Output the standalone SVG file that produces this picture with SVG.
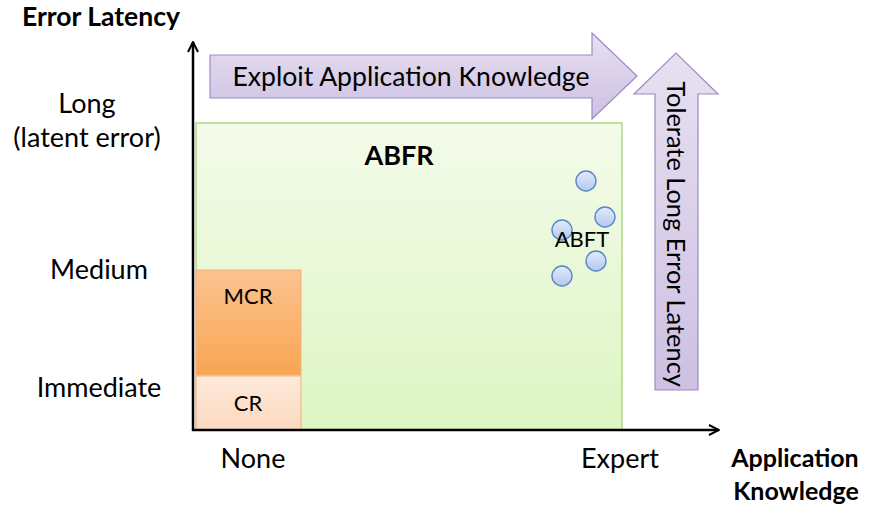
<svg xmlns="http://www.w3.org/2000/svg" width="874" height="512" viewBox="0 0 874 512">
  <style>
    text { font-family: Lato, "Liberation Sans", sans-serif; fill: #000; }
    .lbl { font-size: 27px; }
    .bold { font-weight: bold; }
    .arrow { fill: url(#purple); stroke: #9c8cc3; stroke-width: 1.2; }
    .dot { fill: url(#blue); stroke: #5a87c8; stroke-width: 1.4; }
    .axis { stroke: #000; stroke-width: 2.5; fill: none; }
  </style>
  <defs>
    <linearGradient id="green" x1="0" y1="0" x2="0" y2="1">
      <stop offset="0" stop-color="#f4fbea"/>
      <stop offset="1" stop-color="#ddf5c2"/>
    </linearGradient>
    <linearGradient id="orange" x1="0" y1="0" x2="0" y2="1">
      <stop offset="0" stop-color="#fcc390"/>
      <stop offset="1" stop-color="#f8a552"/>
    </linearGradient>
    <linearGradient id="peach" x1="0" y1="0" x2="0" y2="1">
      <stop offset="0" stop-color="#fdeadc"/>
      <stop offset="1" stop-color="#fcd9bf"/>
    </linearGradient>
    <linearGradient id="purple" x1="0" y1="0" x2="0" y2="1">
      <stop offset="0" stop-color="#e7e0f1"/>
      <stop offset="1" stop-color="#cdc0e2"/>
    </linearGradient>
    <linearGradient id="blue" x1="0" y1="0" x2="0" y2="1">
      <stop offset="0" stop-color="#e2ebfa"/>
      <stop offset="1" stop-color="#b3c8ee"/>
    </linearGradient>
    <marker id="head" viewBox="0 0 10 10" refX="9" refY="5" markerWidth="5" markerHeight="5" orient="auto">
      <path d="M1,1 L9,5 L1,9" fill="none" stroke="#000" stroke-width="1.6"/>
    </marker>
  </defs>

  <!-- regions -->
  <g id="abfr">
    <rect x="196" y="123" width="426" height="307" fill="url(#green)" stroke="#9fcf6a" stroke-width="1.2"/>
    <text class="bold" x="399" y="165" text-anchor="middle" font-size="27">ABFR</text>
  </g>
  <g id="mcr">
    <rect x="196" y="270" width="105" height="105" fill="url(#orange)" stroke="#f3b07c" stroke-width="1"/>
    <text x="248" y="304" text-anchor="middle" font-size="22">MCR</text>
  </g>
  <g id="cr">
    <rect x="196" y="376" width="105" height="54" fill="url(#peach)" stroke="#f3b07c" stroke-width="1"/>
    <text x="248" y="411" text-anchor="middle" font-size="22">CR</text>
  </g>

  <!-- ABFT points -->
  <g id="abft">
    <circle class="dot" cx="586" cy="181" r="10"/>
    <circle class="dot" cx="605" cy="217" r="10"/>
    <circle class="dot" cx="562" cy="230" r="10"/>
    <circle class="dot" cx="596" cy="261" r="10"/>
    <circle class="dot" cx="562" cy="276" r="10"/>
    <text x="582" y="247" text-anchor="middle" font-size="22">ABFT</text>
  </g>

  <!-- trend arrows -->
  <g id="exploit">
    <path class="arrow" d="M210,55 L592,55 L592,33 L637,76 L592,119 L592,98 L210,98 Z"/>
    <text x="411" y="86" text-anchor="middle" font-size="26.6">Exploit Application Knowledge</text>
  </g>
  <g id="tolerate">
    <path class="arrow" d="M655,390 L655,94 L634,94 L676,53 L718,94 L698,94 L698,390 Z"/>
    <text transform="translate(667,234) rotate(90)" text-anchor="middle" font-size="25.4">Tolerate Long Error Latency</text>
  </g>

  <!-- axes -->
  <g id="connectors">
    <line class="axis" x1="193" y1="431" x2="193" y2="42" marker-end="url(#head)"/>
    <line class="axis" x1="192" y1="430" x2="719" y2="430" marker-end="url(#head)"/>
  </g>

  <!-- axis labels -->
  <g id="y-labels">
    <text class="bold" x="101" y="26" text-anchor="middle" font-size="26.5">Error Latency</text>
    <text class="lbl" x="87" y="113" text-anchor="middle">Long</text>
    <text class="lbl" x="87" y="147" text-anchor="middle">(latent error)</text>
    <text class="lbl" x="99" y="279" text-anchor="middle">Medium</text>
    <text class="lbl" x="99" y="397" text-anchor="middle">Immediate</text>
  </g>
  <g id="x-labels">
    <text class="lbl" x="253" y="468" text-anchor="middle">None</text>
    <text class="lbl" x="620" y="468" text-anchor="middle">Expert</text>
    <text class="bold" x="795" y="467" text-anchor="middle" font-size="25">Application</text>
    <text class="bold" x="796" y="500" text-anchor="middle" font-size="25">Knowledge</text>
  </g>
</svg>
